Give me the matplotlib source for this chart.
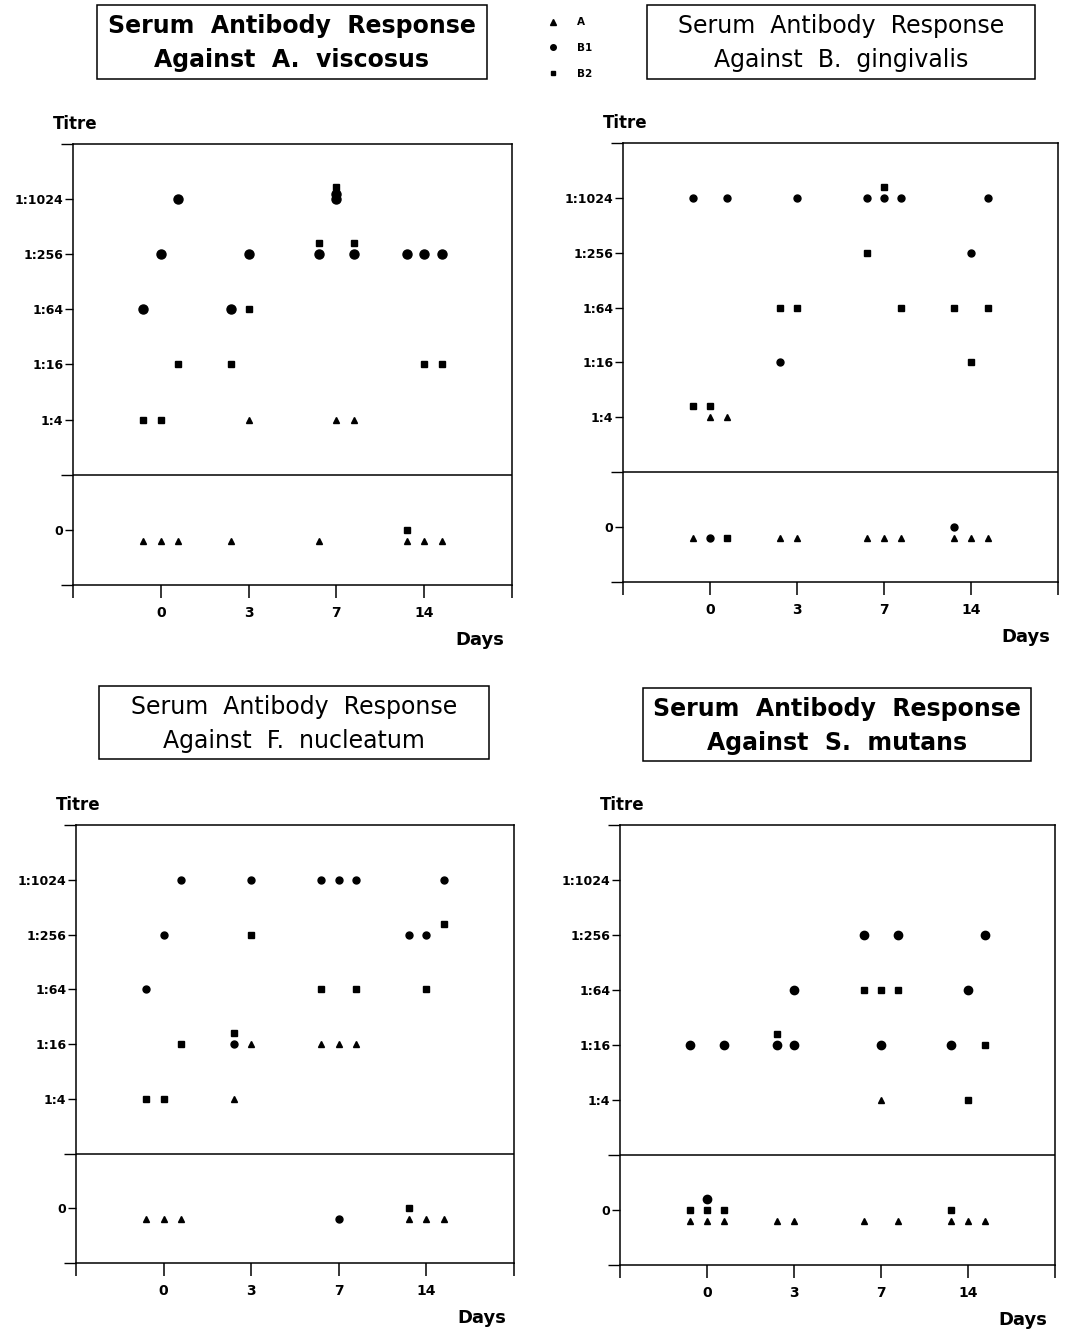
import matplotlib
matplotlib.use("Agg")
import matplotlib.pyplot as plt
from matplotlib.patches import Rectangle
from matplotlib.lines import Line2D

# x = day slot (0, 1, 2, 3 for days 0, 3, 7, 14; +-0.2 for neighbouring subjects)
# y = titre level (1 = 1:4 ... 5 = 1:1024, -1 = 0; small offsets for stacked marks)
day_labels = ["0", "3", "7", "14"]
titre_labels = ["0", "1:4", "1:16", "1:64", "1:256", "1:1024"]
titre_levels = [-1, 1, 2, 3, 4, 5]

# A. viscosus
visc_A_x = [1.0, 2.0, 2.2, -0.2, 0.0, 0.2, 0.8, 1.8, 2.8, 3.0, 3.2]
visc_A_y = [1, 1, 1, -1.2, -1.2, -1.2, -1.2, -1.2, -1.2, -1.2, -1.2]
visc_B1_x = [0.2, 2.0, 2.0, 0.0, 1.0, 1.8, 2.2, 2.8, 3.0, 3.2, -0.2, 0.8]
visc_B1_y = [5, 5, 5.1, 4, 4, 4, 4, 4, 4, 4, 3, 3]
visc_B2_x = [2.0, 1.8, 2.2, 1.0, 0.2, 0.8, 3.0, 3.2, -0.2, 0.0, 2.8]
visc_B2_y = [5.22, 4.2, 4.2, 3, 2, 2, 2, 2, 1, 1, -1]

# B. gingivalis
ging_A_x = [0.0, 0.2, -0.2, 0.8, 1.0, 1.8, 2.0, 2.2, 2.8, 3.0, 3.2]
ging_A_y = [1, 1, -1.2, -1.2, -1.2, -1.2, -1.2, -1.2, -1.2, -1.2, -1.2]
ging_B1_x = [-0.2, 0.2, 1.0, 1.8, 2.0, 2.2, 3.2, 3.0, 0.8, 0.0, 2.8]
ging_B1_y = [5, 5, 5, 5, 5, 5, 5, 4, 2, -1.2, -1]
ging_B2_x = [2.0, 1.8, 0.8, 1.0, 2.2, 2.8, 3.2, 3.0, -0.2, 0.0, 0.2]
ging_B2_y = [5.2, 4, 3, 3, 3, 3, 3, 2, 1.2, 1.2, -1.2]

# F. nucleatum
nuc_A_x = [1.0, 1.8, 2.0, 2.2, 0.8, -0.2, 0.0, 0.2, 2.8, 3.0, 3.2]
nuc_A_y = [2, 2, 2, 2, 1, -1.2, -1.2, -1.2, -1.2, -1.2, -1.2]
nuc_B1_x = [0.2, 1.0, 1.8, 2.0, 2.2, 3.2, 0.0, 2.8, 3.0, -0.2, 0.8, 2.0]
nuc_B1_y = [5, 5, 5, 5, 5, 5, 4, 4, 4, 3, 2, -1.2]
nuc_B2_x = [3.2, 1.0, 1.8, 2.2, 3.0, 0.8, 0.2, -0.2, 0.0, 2.8]
nuc_B2_y = [4.2, 4, 3, 3, 3, 2.2, 2, 1, 1, -1]

# S. mutans
mut_A_x = [2.0, -0.2, 0.0, 0.2, 0.8, 1.0, 1.8, 2.2, 2.8, 3.0, 3.2]
mut_A_y = [1, -1.2, -1.2, -1.2, -1.2, -1.2, -1.2, -1.2, -1.2, -1.2, -1.2]
mut_B1_x = [1.8, 2.2, 3.2, 1.0, 3.0, -0.2, 0.2, 0.8, 1.0, 2.0, 2.8, 0.0]
mut_B1_y = [4, 4, 4, 3, 3, 2, 2, 2, 2, 2, 2, -0.8]
mut_B2_x = [1.8, 2.0, 2.2, 0.8, 3.2, 3.0, -0.2, 0.0, 0.2, 2.8]
mut_B2_y = [3, 3, 3, 2.2, 2, 1, -1, -1, -1, -1]

W, H = 1066, 1333
fig = plt.figure(figsize=(W / 100, H / 100), dpi=100)
font = "DejaVu Sans"


def fx(px):
    return px / W


def fy(py):
    return 1 - py / H


def title_box(x0, y0, x1, y1, organism, weight):
    fig.patches.append(Rectangle((fx(x0), fy(y1)), fx(x1 - x0), (y1 - y0) / H,
                                 transform=fig.transFigure, fill=False,
                                 ec="black", lw=1.1))
    cx = fx((x0 + x1) / 2)
    fig.text(cx, fy(y0 + (y1 - y0) * 0.29), "Serum  Antibody  Response",
             ha="center", va="center", fontsize=17, family=font, weight=weight)
    fig.text(cx, fy(y0 + (y1 - y0) * 0.75), "Against  " + organism,
             ha="center", va="center", fontsize=17, family=font, weight=weight)


def panel(box, data, circle_size):
    left, right, top, bottom = box
    ax = fig.add_axes([fx(left), fy(bottom), fx(right - left), (bottom - top) / H])
    ax.set_xlim(-1, 4)
    ax.set_ylim(-2, 6)
    ax.axhline(0, color="black", lw=1.1)
    (ax_, ay), (b1x, b1y), (b2x, b2y) = data
    ax.plot(ax_, ay, "^", color="black", ms=5, ls="none")
    ax.plot(b2x, b2y, "s", color="black", ms=4.6, ls="none")
    ax.plot(b1x, b1y, "o", color="black", ms=circle_size, ls="none")
    ax.set_xticks([-1, 0, 1, 2, 3, 4])
    ax.set_xticklabels([""] + day_labels + [""], fontsize=10, weight="bold")
    ax.set_yticks(titre_levels)
    ax.set_yticklabels(titre_labels, fontsize=9, weight="bold")
    ax.set_yticks([-2, 0, 6], minor=True)
    ax.tick_params(axis="x", direction="out", length=9, width=1.1, pad=6)
    ax.tick_params(axis="y", direction="out", length=6, width=1.0, pad=1)
    ax.tick_params(axis="y", which="minor", length=9, width=1.0)
    for s in ax.spines.values():
        s.set_linewidth(1.1)
    fig.text(fx(left - 20), fy(top - 20), "Titre", ha="left", va="center",
             fontsize=12, weight="bold")
    fig.text(fx(right - 32), fy(bottom + 55), "Days", ha="center", va="center",
             fontsize=13, weight="bold")
    return ax


panel((73, 512, 144, 585),
      [(visc_A_x, visc_A_y), (visc_B1_x, visc_B1_y), (visc_B2_x, visc_B2_y)], 6.5)
panel((623, 1058, 143, 582),
      [(ging_A_x, ging_A_y), (ging_B1_x, ging_B1_y), (ging_B2_x, ging_B2_y)], 5)
panel((76, 514, 825, 1263),
      [(nuc_A_x, nuc_A_y), (nuc_B1_x, nuc_B1_y), (nuc_B2_x, nuc_B2_y)], 5)
panel((620, 1055, 825, 1265),
      [(mut_A_x, mut_A_y), (mut_B1_x, mut_B1_y), (mut_B2_x, mut_B2_y)], 6)

title_box(97, 5, 487, 79, "A.  viscosus", "bold")
title_box(647, 5, 1035, 79, "B.  gingivalis", "normal")
title_box(99, 686, 489, 759, "F.  nucleatum", "normal")
title_box(643, 688, 1031, 761, "S.  mutans", "bold")

handles = [Line2D([], [], marker="^", color="black", ls="none", ms=4),
           Line2D([], [], marker="o", color="black", ls="none", ms=4),
           Line2D([], [], marker="s", color="black", ls="none", ms=3.5)]
fig.legend(handles, ["A", "B1", "B2"], loc="upper left",
           bbox_to_anchor=(fx(538), fy(8)), frameon=False,
           prop={"size": 7.5, "weight": "bold"}, labelspacing=1.5,
           handlelength=1.0, handletextpad=1.8)

fig.savefig("out.png", dpi=100)
